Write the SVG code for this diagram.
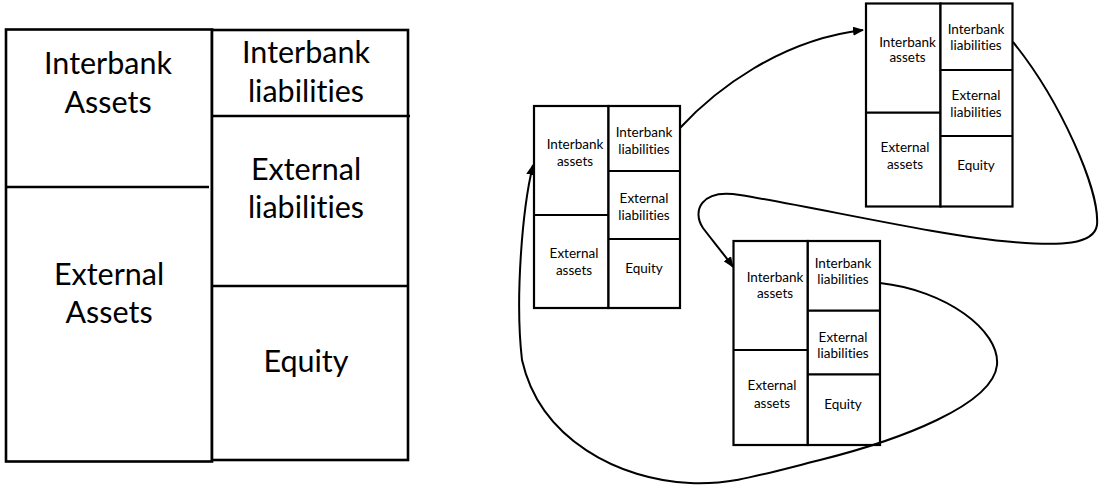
<svg xmlns="http://www.w3.org/2000/svg" width="1100" height="489" viewBox="0 0 1100 489">
<style>
.bg{fill:#fff}
.big rect,.big line{fill:#fff;stroke:#000;stroke-width:2.6}
.sm rect,.sm line{fill:#fff;stroke:#000;stroke-width:2.2}
text{font-variant-ligatures:none;font-feature-settings:"liga" 0,"clig" 0}
.bt{font-family:Lato,"Open Sans","Liberation Sans",sans-serif;font-size:30.5px;fill:#000;text-anchor:middle}
.st{font-family:Lato,"Open Sans","Liberation Sans",sans-serif;font-size:13.5px;fill:#000;text-anchor:middle}
.con path{fill:none;stroke:#000;stroke-width:2}
</style>
<defs>
<marker id="arr" markerWidth="11" markerHeight="9" refX="10" refY="4.5" orient="auto" markerUnits="userSpaceOnUse">
<path d="M0,0 L11,4.5 L0,9 z" fill="#000"/>
</marker>
</defs>
<rect class="bg" x="0" y="0" width="1100" height="489"/>

<g id="bank-large" class="big">
<rect x="6" y="29.5" width="206" height="432"/>
<rect x="212" y="30" width="196" height="430"/>
<line x1="6" y1="187" x2="209" y2="187"/>
<line x1="212" y1="116" x2="410" y2="116"/>
<line x1="212" y1="286" x2="408" y2="286"/>
<text class="bt" x="108" y="74">Interbank</text>
<text class="bt" x="108" y="113">Assets</text>
<text class="bt" x="109" y="285">External</text>
<text class="bt" x="109" y="323">Assets</text>
<text class="bt" x="306" y="63">Interbank</text>
<text class="bt" x="306" y="102">liabilities</text>
<text class="bt" x="306" y="180">External</text>
<text class="bt" x="306" y="218">liabilities</text>
<text class="bt" x="306" y="372">Equity</text>
</g>

<g id="bank-a" class="sm">
<rect x="534" y="106" width="74.5" height="202"/>
<rect x="608.5" y="106" width="71.5" height="202"/>
<line x1="534" y1="215" x2="608.5" y2="215"/>
<line x1="608.5" y1="171" x2="681" y2="171"/>
<line x1="608.5" y1="239" x2="680" y2="239"/>
<text class="st" x="575" y="149.3">Interbank</text>
<text class="st" x="575" y="165.5">assets</text>
<text class="st" x="644" y="136.7">Interbank</text>
<text class="st" x="644" y="153.5">liabilities</text>
<text class="st" x="644" y="203">External</text>
<text class="st" x="644" y="220">liabilities</text>
<text class="st" x="574" y="258">External</text>
<text class="st" x="574" y="275">assets</text>
<text class="st" x="644" y="272.7">Equity</text>
</g>

<g id="bank-b" class="sm">
<rect x="866" y="3.5" width="74.5" height="203"/>
<rect x="940.5" y="3.5" width="72" height="203"/>
<line x1="866" y1="112.7" x2="940.5" y2="112.7"/>
<line x1="940.5" y1="70" x2="1012.5" y2="70"/>
<line x1="940.5" y1="136" x2="1012.5" y2="136"/>
<text class="st" x="907.5" y="46.7">Interbank</text>
<text class="st" x="907.5" y="62">assets</text>
<text class="st" x="976" y="34">Interbank</text>
<text class="st" x="976" y="50">liabilities</text>
<text class="st" x="976" y="100">External</text>
<text class="st" x="976" y="116.7">liabilities</text>
<text class="st" x="905" y="152">External</text>
<text class="st" x="905" y="169">assets</text>
<text class="st" x="976" y="170">Equity</text>
</g>

<g id="bank-c" class="sm">
<rect x="733.5" y="241" width="74.3" height="204"/>
<rect x="807.8" y="241" width="72.2" height="204"/>
<line x1="733.5" y1="350" x2="807.8" y2="350"/>
<line x1="807.8" y1="310.7" x2="880" y2="310.7"/>
<line x1="807.8" y1="374.3" x2="880" y2="374.3"/>
<text class="st" x="775" y="281.7">Interbank</text>
<text class="st" x="775" y="298.3">assets</text>
<text class="st" x="843" y="268.3">Interbank</text>
<text class="st" x="843" y="284">liabilities</text>
<text class="st" x="843" y="341.7">External</text>
<text class="st" x="843" y="358.3">liabilities</text>
<text class="st" x="772" y="390">External</text>
<text class="st" x="772" y="407.7">assets</text>
<text class="st" x="843" y="409.3">Equity</text>
</g>

<g id="connectors" class="con">
<path d="M680,128 C715,90 780,40 863,30" marker-end="url(#arr)"/>
<path d="M1013,42 C1060,100 1100,190 1097,225 C1094,245 1060,246 1013,242 C940,236 820,208 740,195 C700,188 692,212 703,228 C712,240 724,254 733,267" marker-end="url(#arr)"/>
<path d="M880,283 C945,290 1000,330 997,365 C993,405 900,440 820,460 C760,475 730,485 690,483 C620,480 540,440 522,360 C515,300 522,210 533,165" marker-end="url(#arr)"/>
</g>
</svg>
